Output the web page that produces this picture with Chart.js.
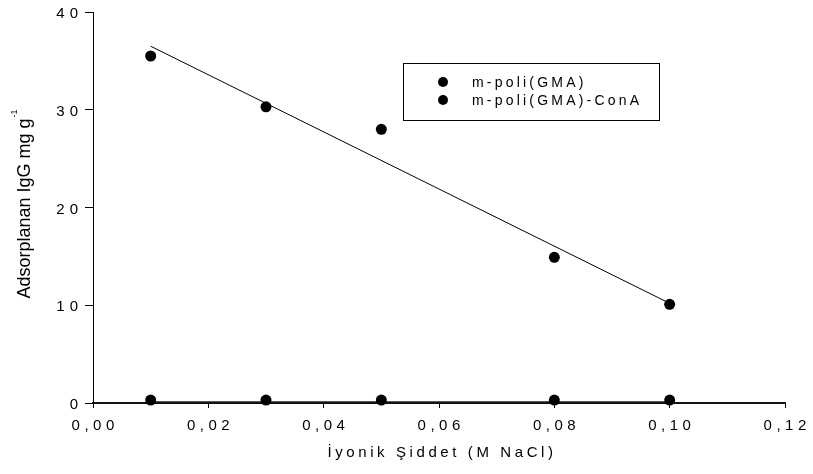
<!DOCTYPE html>
<html>
<head>
<meta charset="utf-8">
<script src="https://cdn.jsdelivr.net/npm/chart.js@4.4.0/dist/chart.umd.min.js"></script>
<style>
  html, body { margin: 0; padding: 0; background: #ffffff; }
  #wrap { width: 813px; height: 474px; position: relative; }
</style>
</head>
<body>
<div id="wrap"><canvas id="c" width="813" height="474"></canvas></div>
<script>
// Ionic strength (M NaCl) and adsorbed IgG (mg/g)
const ionicStrength = [0.01, 0.03, 0.05, 0.08, 0.10];
const adsorbedGMA = [35.5, 30.3, 28.0, 14.9, 10.1];
const adsorbedConA = [0.3, 0.3, 0.3, 0.3, 0.3];

// Straight-line fits, given by their end points
const fitX = [0.01, 0.10];
const fitGMA = [36.5, 10.2];
const fitConA = [0.15, 0.15];

const seriesNames = ['m-poli(GMA)', 'm-poli(GMA)-ConA'];
const xTickValues = [0, 0.02, 0.04, 0.06, 0.08, 0.10, 0.12];
const yTickValues = [0, 10, 20, 30, 40];
const xTitle = 'İyonik Şiddet (M NaCl)';
const yTitleMain = 'Adsorplanan IgG mg g';
const yTitleSup = '-1';

const FONT = '"Liberation Sans", Arial, sans-serif';

const toPoints = (xs, ys) => xs.map((x, i) => ({ x: x, y: ys[i] }));

// Letter spacing for the tick labels: y labels are drawn before the
// datasets, x labels (z: 1) after them.
const spacingPlugin = {
  id: 'spacing',
  beforeDraw(chart) { chart.ctx.letterSpacing = '5px'; },
  afterDatasetsDraw(chart) { chart.ctx.letterSpacing = '4.5px'; },
  afterDraw(chart) { chart.ctx.letterSpacing = '0px'; }
};

// Axis titles and the boxed legend
const annotatePlugin = {
  id: 'annotate',
  afterDraw(chart) {
    const ctx = chart.ctx;
    const area = chart.chartArea;
    ctx.save();
    ctx.fillStyle = '#000';

    // x title
    ctx.font = '15px ' + FONT;
    ctx.letterSpacing = '3.6px';
    ctx.textAlign = 'center';
    ctx.textBaseline = 'alphabetic';
    ctx.fillText(xTitle, (area.left + area.right) / 2 + 3, 457);

    // y title with superscript
    ctx.letterSpacing = '0px';
    ctx.save();
    ctx.translate(30, 204);
    ctx.rotate(-Math.PI / 2);
    ctx.textAlign = 'left';
    ctx.font = '18px ' + FONT;
    const wMain = ctx.measureText(yTitleMain).width;
    ctx.font = '9px ' + FONT;
    const wSup = ctx.measureText(yTitleSup).width;
    const start = -(wMain + wSup + 1) / 2;
    ctx.font = '18px ' + FONT;
    ctx.fillText(yTitleMain, start, 0);
    ctx.font = '9px ' + FONT;
    ctx.fillText(yTitleSup, start + wMain + 1, -13);
    ctx.restore();

    // legend
    const box = { x: 403.5, y: 63.5, w: 256, h: 57 };
    ctx.strokeStyle = '#000';
    ctx.lineWidth = 1;
    ctx.strokeRect(box.x, box.y, box.w, box.h);
    ctx.font = '14px ' + FONT;
    ctx.letterSpacing = '3.2px';
    ctx.textAlign = 'left';
    ctx.textBaseline = 'middle';
    const rows = [82, 100];
    [0, 1].forEach((di, i) => {
      const ds = chart.data.datasets[di];
      ctx.beginPath();
      ctx.arc(443, rows[i], 5, 0, Math.PI * 2);
      ctx.fillStyle = ds.backgroundColor;
      ctx.fill();
      ctx.fillStyle = '#000';
      ctx.fillText(seriesNames[i], 472, rows[i] + 1);
    });
    ctx.restore();
  }
};

new Chart(document.getElementById('c'), {
  type: 'scatter',
  data: {
    datasets: [
      {
        label: seriesNames[0],
        data: toPoints(ionicStrength, adsorbedGMA),
        backgroundColor: '#000',
        borderWidth: 0,
        pointRadius: 5.5,
        clip: false
      },
      {
        label: seriesNames[1],
        data: toPoints(ionicStrength, adsorbedConA),
        backgroundColor: '#000',
        borderWidth: 0,
        pointRadius: 5.5,
        clip: false
      },
      {
        label: 'fit GMA',
        data: toPoints(fitX, fitGMA),
        showLine: true,
        borderColor: '#000',
        borderWidth: 1,
        pointRadius: 0,
        fill: false
      },
      {
        label: 'fit ConA',
        data: toPoints(fitX, fitConA),
        showLine: true,
        borderColor: '#555',
        borderWidth: 1,
        pointRadius: 0,
        fill: false
      }
    ]
  },
  options: {
    responsive: false,
    animation: false,
    events: [],
    layout: { padding: { left: 0, right: 28, top: 12, bottom: 0 } },
    plugins: {
      legend: { display: false },
      tooltip: { enabled: false }
    },
    scales: {
      x: {
        type: 'linear',
        min: 0,
        max: 0.12,
        afterFit(scale) { scale.height = 71; },
        afterBuildTicks(scale) { scale.ticks = xTickValues.map(v => ({ value: v })); },
        border: { display: true, color: '#111', width: 2 },
        grid: { display: true, drawOnChartArea: false, drawTicks: true, tickLength: 5, color: '#000', lineWidth: 1 },
        ticks: {
          z: 1,
          color: '#000',
          font: { family: FONT, size: 15 },
          padding: 9,
          labelOffset: 2.2,
          maxRotation: 0,
          autoSkip: false,
          callback: v => v.toFixed(2).replace('.', ',')
        },
        title: { display: false }
      },
      y: {
        type: 'linear',
        min: 0,
        max: 40,
        afterFit(scale) { scale.width = 93; },
        afterBuildTicks(scale) { scale.ticks = yTickValues.map(v => ({ value: v })); },
        border: { display: true, color: '#000', width: 1 },
        grid: { display: true, drawOnChartArea: false, drawTicks: true, tickLength: 8, color: '#000', lineWidth: 1 },
        ticks: {
          color: '#000',
          font: { family: FONT, size: 15 },
          padding: 2,
          labelOffset: 2,
          autoSkip: false,
          callback: v => String(v)
        },
        title: { display: false }
      }
    }
  },
  plugins: [spacingPlugin, annotatePlugin]
});
</script>
</body>
</html>
